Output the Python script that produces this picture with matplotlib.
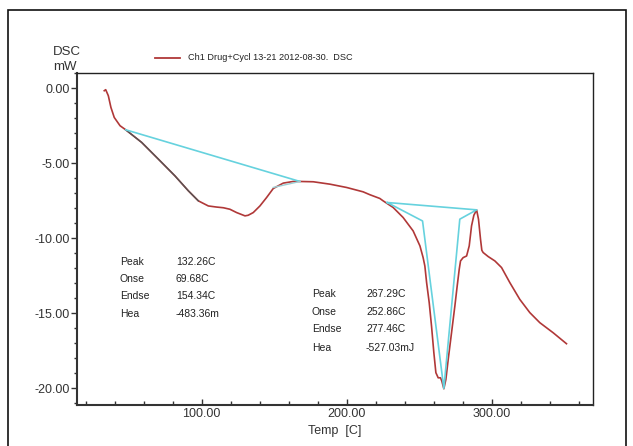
import matplotlib
matplotlib.use('Agg')
import matplotlib.pyplot as plt
from matplotlib.ticker import MultipleLocator, FormatStrFormatter
from matplotlib.patches import Rectangle
from matplotlib.lines import Line2D
import numpy as np

plt.rcParams['font.family'] = ['Liberation Sans', 'DejaVu Sans']

# DSC trace (temp in C, heat flow in mW)
temp = [32.8, 33.8, 35.6, 37.4, 39.7, 43.7, 47.6, 58.6, 70.1, 81.6, 90.8, 97.7,
        104.6, 110.0, 115.0, 119.5, 124.1, 129.9, 132.1, 135.6, 140.2, 144.8,
        149.4, 156.3, 163.2, 167.8, 177.0, 188.5, 200.0, 211.4, 216.0, 222.9,
        225.2, 232.1, 239.0, 245.9, 250.6, 252.8, 254.0, 255.2, 257.0, 258.6,
        260.2, 261.6, 263.2, 264.8, 265.7, 267.1, 268.5, 270.1, 272.4, 274.7,
        276.3, 277.7, 278.6, 280.4, 282.8, 284.6, 286.2, 287.8, 289.7, 291.0,
        292.4, 293.3, 294.2, 297.7, 302.3, 306.9, 312.6, 319.5, 326.4, 333.3,
        342.5, 351.7]
dsc = [-0.18, -0.11, -0.51, -1.29, -1.96, -2.51, -2.78, -3.62, -4.73, -5.85, -6.84, -7.51,
       -7.85, -7.92, -7.97, -8.07, -8.29, -8.51, -8.47, -8.29, -7.85, -7.29,
       -6.69, -6.33, -6.22, -6.22, -6.24, -6.40, -6.62, -6.91, -7.10, -7.35,
       -7.51, -7.95, -8.62, -9.51, -10.51, -11.29, -11.85, -12.95, -14.29, -15.85,
       -17.62, -18.95, -19.29, -19.29, -19.51, -20.02, -19.40, -18.07, -16.29, -14.51,
       -13.18, -12.07, -11.51, -11.29, -11.18, -10.51, -9.18, -8.47, -8.11, -8.73,
       -10.07, -10.80, -10.95, -11.22, -11.51, -11.95, -12.95, -14.07, -14.95, -15.62,
       -16.29, -17.02]

# evaluation lines
base1_t = [47.6, 167.8]
base1_v = [-2.78, -6.22]
tan1_t = [149.4, 167.8]
tan1_v = [-6.62, -6.22]
peak2_t = [228.0, 252.4, 267.1, 278.1, 289.7, 228.0]
peak2_v = [-7.62, -8.85, -20.0, -8.73, -8.11, -7.62]

row_labels = ['Peak', 'Onse', 'Endse', 'Hea']
left_values = ['132.26C', '69.68C', '154.34C', '-483.36m']
right_values = ['267.29C', '252.86C', '277.46C', '-527.03mJ']

W, H = 633, 446
fig = plt.figure(figsize=(W / 100, H / 100), dpi=100)

def fx(x):
    return x / W

def fy(y):
    return 1 - y / H

# outer frame
fig.add_artist(Rectangle((fx(8), -0.1), fx(626) - fx(8), fy(10) + 0.1,
                         transform=fig.transFigure, fill=False,
                         edgecolor='#111111', lw=1.2))

ax = fig.add_axes([fx(77), fy(405), fx(593) - fx(77), fy(73) - fy(405)])

red = '#b03838'
cyan = '#66d2de'
ax.plot(temp, dsc, color=red, lw=1.2)
t = np.array(temp)
v = np.array(dsc)
m = (t >= 47.6) & (t <= 100)
ax.plot(t[m], v[m], color='#555555', lw=1.0)
ax.plot(base1_t, base1_v, color=cyan, lw=1.2)
ax.plot(tan1_t, tan1_v, color='#9ccfd4', lw=1.0)
ax.plot(peak2_t, peak2_v, color=cyan, lw=1.2)

ax.set_xlim(14, 370)
ax.set_ylim(-21.1, 1.0)
ax.xaxis.set_major_locator(MultipleLocator(100))
ax.xaxis.set_minor_locator(MultipleLocator(20))
ax.yaxis.set_major_locator(MultipleLocator(5))
ax.yaxis.set_minor_locator(MultipleLocator(1))
ax.xaxis.set_major_formatter(FormatStrFormatter('%.2f'))
ax.yaxis.set_major_formatter(FormatStrFormatter('%.2f'))

ax.tick_params(axis='x', which='major', direction='in', length=4, width=1,
               labelsize=9, pad=2, colors='#333333')
ax.tick_params(axis='x', which='minor', direction='in', length=3, width=1,
               colors='#333333')
ax.tick_params(axis='y', which='major', direction='out', length=4, width=1,
               labelsize=9, pad=1, colors='#333333')
ax.tick_params(axis='y', which='minor', direction='out', length=2, width=1,
               colors='#333333')

for s in ['left', 'bottom']:
    ax.spines[s].set_linewidth(1.5)
    ax.spines[s].set_color('#333333')
for s in ['top', 'right']:
    ax.spines[s].set_linewidth(1.0)
    ax.spines[s].set_color('#222222')

# header texts
fig.text(fx(53), fy(52), 'DSC', fontsize=9.5, va='center', color='#333333')
fig.text(fx(53), fy(67), 'mW', fontsize=9.5, va='center', color='#333333')
fig.add_artist(Line2D([fx(155), fx(180)], [fy(58), fy(58)], color=red, lw=1.3,
                      transform=fig.transFigure))
fig.text(fx(188), fy(58), 'Ch1 Drug+Cycl 13-21 2012-08-30.  DSC', fontsize=6.6,
         va='center', color='#222222')
fig.text(fx(308), fy(431), 'Temp  [C]', fontsize=9, va='center', color='#333333')

# evaluation result texts
left_rows = [262, 279, 296, 314]
right_rows = [294, 311.7, 329.3, 347.7]
for lab, val, y in zip(row_labels, left_values, left_rows):
    fig.text(fx(120), fy(y), lab, fontsize=7.5, va='center', color='#222222')
    fig.text(fx(176), fy(y), val, fontsize=7.5, va='center', color='#222222')
for lab, val, y in zip(row_labels, right_values, right_rows):
    fig.text(fx(312), fy(y), lab, fontsize=7.5, va='center', color='#222222')
    fig.text(fx(366), fy(y), val, fontsize=7.5, va='center', color='#222222')

fig.savefig('out.png', dpi=100, facecolor='white')
